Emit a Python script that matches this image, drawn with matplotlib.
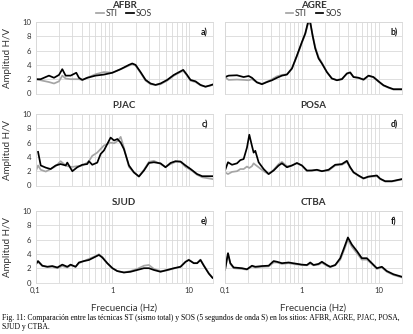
import numpy as np
import matplotlib
matplotlib.use("Agg")
import matplotlib.pyplot as plt
from matplotlib.ticker import FixedLocator, LogLocator, NullFormatter

plt.rcParams['font.family'] = ['Lato', 'DejaVu Sans']

# H/V spectral ratios per site: ST (sismo total) vs SOS (5 s of S wave)
sites = ["AFBR", "AGRE", "PJAC", "POSA", "SJUD", "CTBA"]
letters = ["a)", "b)", "c)", "d)", "e)", "f)"]

freq_afbr = [0.1, 0.1167, 0.1497, 0.174, 0.202, 0.223, 0.2465, 0.286, 0.339, 0.367,
             0.406, 0.471, 0.604, 0.776, 0.995, 1.277, 1.638, 1.81, 2.0, 2.32,
             2.7, 3.13, 3.64, 4.22, 5.15, 6.29, 7.68, 8.32, 9.19, 10.36,
             12.03, 13.96, 16.2, 18.8, 20]
sos_afbr = [2.0, 2.0, 2.5, 2.2, 2.6, 3.4, 2.5, 2.5, 2.9, 2.2,
            1.9, 2.2, 2.5, 2.65, 2.9, 3.4, 4.0, 4.2, 4.0, 3.0,
            1.9, 1.4, 1.2, 1.4, 1.9, 2.6, 3.1, 3.3, 2.7, 1.9,
            1.7, 1.2, 0.95, 1.15, 1.25]
sti_afbr = [2.0, 1.85, 1.6, 1.4, 1.7, 2.5, 2.1, 2.0, 2.0, 2.0,
            1.9, 2.2, 2.7, 3.0, 2.9, 3.4, 3.9, 4.1, 3.9, 2.9,
            1.8, 1.3, 1.2, 1.3, 1.8, 2.5, 3.0, 3.2, 2.6, 1.8,
            1.6, 1.15, 0.95, 1.1, 1.2]

freq_agre = [0.1, 0.1116, 0.1432, 0.1747, 0.203, 0.224, 0.26, 0.302, 0.351, 0.408,
             0.474, 0.55, 0.639, 0.742, 0.861, 1.0, 1.105, 1.196, 1.283, 1.376,
             1.49, 1.646, 1.818, 2.11, 2.45, 2.85, 3.31, 3.84, 4.24, 4.69,
             5.44, 6.32, 7.34, 8.52, 9.9, 11.5, 13.35, 15.5, 20]
sos_agre = [2.3, 2.5, 2.55, 2.3, 2.45, 2.2, 1.55, 1.3, 1.6, 1.85,
            2.2, 2.5, 2.65, 3.5, 5.3, 7.2, 8.4, 9.9, 10.0, 8.1,
            6.3, 4.9, 4.2, 3.0, 2.1, 1.85, 2.0, 2.8, 2.95, 2.3,
            2.2, 1.95, 2.5, 2.3, 1.7, 1.15, 0.85, 0.6, 0.6]
sti_agre = [2.3, 1.9, 1.95, 1.9, 1.85, 2.0, 1.6, 1.35, 1.65, 2.0,
            2.4, 2.6, 2.7, 3.5, 5.2, 7.1, 8.3, 9.7, 9.8, 8.2,
            6.5, 5.1, 4.3, 3.0, 2.1, 1.9, 2.05, 2.75, 2.9, 2.3,
            2.2, 1.9, 2.45, 2.25, 1.65, 1.1, 0.8, 0.55, 0.55]

freq_pjac = [0.1, 0.108, 0.117, 0.136, 0.157, 0.183, 0.212, 0.247, 0.259, 0.301,
             0.349, 0.406, 0.471, 0.495, 0.547, 0.635, 0.702, 0.776, 0.857, 0.947,
             1.05, 1.16, 1.28, 1.41, 1.64, 1.9, 2.21, 2.57, 2.98, 3.46,
             4.22, 4.9, 5.69, 6.61, 7.68, 8.92, 10.4, 12.6, 14.7, 20]
sos_pjac = [np.nan, 4.7, 2.8, 2.5, 2.3, 2.8, 3.0, 2.8, 3.2, 2.0,
            2.55, 2.9, 3.0, 3.4, 2.9, 3.2, 4.4, 4.9, 5.8, 6.7,
            6.3, 6.5, 6.0, 5.1, 2.8, 1.85, 1.25, 2.1, 3.15, 3.25,
            3.1, 2.55, 3.15, 3.4, 3.35, 2.8, 2.3, 1.6, 1.3, 1.3]
sti_pjac = [1.9, 2.8, 2.2, 1.95, 2.3, 2.7, 3.4, 2.8, 2.7, 2.6,
            2.7, 2.8, 3.2, 3.4, 4.15, 4.6, 5.1, 5.6, 5.8, 6.0,
            5.9, 6.2, 6.8, 5.3, 2.6, 1.8, 1.3, 2.2, 3.3, 3.45,
            3.0, 2.6, 3.0, 3.3, 3.3, 2.6, 2.2, 1.5, 1.15, 0.9]

freq_posa = [0.1, 0.1094, 0.1233, 0.1432, 0.1582, 0.1747, 0.193, 0.207, 0.224, 0.2357,
             0.2477, 0.2736, 0.318, 0.369, 0.429, 0.498, 0.55, 0.639, 0.742, 0.861,
             1.0, 1.161, 1.348, 1.566, 1.818, 2.22, 2.71, 3.31, 3.84, 4.24,
             4.69, 5.44, 6.32, 7.34, 9.42, 10.4, 12.09, 14.75, 20]
sos_posa = [2.1, 3.25, 2.9, 3.1, 3.55, 3.7, 5.3, 7.1, 5.55, 4.6,
            4.85, 3.25, 2.3, 1.6, 2.1, 2.8, 3.1, 2.55, 2.8, 3.15,
            2.8, 2.1, 2.1, 2.2, 2.0, 2.2, 2.9, 3.0, 3.45, 2.55,
            1.85, 1.4, 1.0, 1.25, 1.4, 0.95, 0.6, 0.6, 0.9]
sti_posa = [1.85, 1.6, 1.9, 2.0, 2.3, 2.3, 2.65, 2.45, 2.7, 3.1,
            2.9, 2.55, 2.0, 1.6, 2.2, 3.0, 3.3, 2.7, 2.8, 3.1,
            2.8, 2.0, 2.1, 2.15, 2.0, 2.1, 2.8, 2.9, 3.3, 2.5,
            1.8, 1.35, 0.95, 1.2, 1.3, 0.9, 0.55, 0.55, 0.85]

freq_sjud = [0.1, 0.1078, 0.1227, 0.1425, 0.1654, 0.1921, 0.223, 0.259, 0.286, 0.332,
             0.367, 0.4265, 0.495, 0.575, 0.668, 0.738, 0.857, 1.0, 1.156, 1.411,
             1.72, 2.1, 2.57, 2.98, 3.46, 4.22, 5.15, 6.29, 7.68, 8.92,
             9.85, 11.44, 12.64, 13.96, 15.43, 17.9, 20]
sos_sjud = [2.5, 3.0, 2.35, 2.2, 2.3, 2.1, 2.5, 2.2, 2.5, 2.2,
            2.8, 3.0, 3.15, 3.5, 3.85, 3.5, 2.7, 2.0, 1.6, 1.4,
            1.5, 1.75, 2.0, 2.0, 1.75, 1.5, 1.75, 2.0, 2.2, 2.9,
            3.15, 2.7, 2.7, 3.15, 2.35, 1.25, 0.65]
sti_sjud = [2.5, 2.9, 2.3, 2.2, 2.2, 2.0, 2.3, 2.1, 2.4, 2.2,
            2.7, 3.0, 3.3, 3.6, 3.95, 3.6, 2.7, 2.0, 1.6, 1.4,
            1.6, 1.9, 2.35, 2.45, 1.9, 1.6, 1.7, 1.95, 2.2, 2.85,
            3.2, 2.7, 2.75, 3.2, 2.4, 1.3, 0.7]

freq_ctba = [0.1, 0.1094, 0.1173, 0.1296, 0.1663, 0.193, 0.224, 0.2477, 0.302, 0.369,
             0.429, 0.474, 0.55, 0.671, 0.819, 1.0, 1.161, 1.283, 1.418, 1.646,
             1.818, 2.11, 2.33, 2.71, 3.15, 3.58, 3.96, 4.46, 5.18, 6.01,
             6.99, 8.11, 9.42, 10.94, 12.7, 15.5, 20]
sos_ctba = [1.75, 4.1, 2.7, 2.1, 2.0, 1.85, 2.35, 2.2, 2.3, 2.35,
            3.0, 2.9, 2.7, 2.8, 2.65, 2.5, 2.45, 2.8, 2.45, 2.6,
            2.9, 2.45, 2.2, 2.45, 3.4, 5.0, 6.3, 5.3, 4.4, 3.4,
            3.4, 2.7, 2.0, 2.2, 1.6, 1.15, 0.8]
sti_ctba = [1.75, 4.0, 2.6, 2.0, 1.9, 1.8, 2.25, 2.1, 2.2, 2.25,
            2.8, 2.8, 2.6, 2.7, 2.55, 2.45, 2.4, 2.65, 2.4, 2.5,
            2.75, 2.35, 2.15, 2.4, 3.2, 4.7, 6.0, 5.0, 4.1, 3.2,
            3.2, 2.6, 1.9, 2.1, 1.5, 1.05, 0.7]

freqs = [freq_afbr, freq_agre, freq_pjac, freq_posa, freq_sjud, freq_ctba]
sos = [sos_afbr, sos_agre, sos_pjac, sos_posa, sos_sjud, sos_ctba]
sti = [sti_afbr, sti_agre, sti_pjac, sti_posa, sti_sjud, sti_ctba]

W, H = 414, 334
fig = plt.figure(figsize=(W / 100, H / 100), dpi=100)

col_left = [35.5, 225]
row_top = [22, 114, 211]
ax_w, ax_h = 177, 71.5
grid_c = '#d9d9d9'
txt_c = '#333333'

for i, site in enumerate(sites):
    r, c = divmod(i, 2)
    x0 = col_left[c]
    y0 = row_top[r]
    ax = fig.add_axes([x0 / W, 1 - (y0 + ax_h) / H, ax_w / W, ax_h / H])
    ax.set_xscale('log')
    ax.plot(freqs[i], sti[i], color='#a5a5a5', lw=1.25, label='STI')
    ax.plot(freqs[i], sos[i], color='black', lw=1.25, label='SOS')
    ax.set_xlim(0.1, 20)
    ax.set_ylim(0, 10)
    ax.set_yticks(range(0, 11, 2))
    ax.xaxis.set_major_locator(FixedLocator([0.1, 1, 10]))
    ax.xaxis.set_minor_locator(LogLocator(base=10, subs=np.arange(2, 10)))
    ax.xaxis.set_minor_formatter(NullFormatter())
    ax.grid(True, which='both', color=grid_c, lw=0.6)
    ax.set_axisbelow(True)
    for s in ax.spines.values():
        s.set_color(grid_c)
        s.set_linewidth(0.6)
    ax.tick_params(which='both', length=0, labelsize=5.6, colors=txt_c, pad=3)

    if c == 0:
        ax.set_ylabel('Amplitud H/V', fontsize=7, color=txt_c)
        ax.yaxis.set_label_coords(-23.5 / ax_w, 0.5)
    else:
        ax.set_yticklabels([])
    if r == 2:
        ax.set_xticklabels(['0,1', '1', '10'])
        ax.set_xlabel('Frecuencia (Hz)', fontsize=7, color=txt_c)
        ax.xaxis.set_label_coords(0.5, -21 / ax_h)
    else:
        ax.set_xticklabels([])

    title_off = 12.2 if r == 0 else 6.3
    ax.annotate(site, xy=(0.5, 1), xycoords='axes fraction',
                xytext=(0, title_off), textcoords='offset points',
                ha='center', va='center', fontsize=7, fontweight='bold',
                color=txt_c)
    ax.text(0.955, 0.84, letters[i], transform=ax.transAxes, ha='center',
            va='center', fontsize=6.3, fontweight='bold', color='#111111')
    if r == 0:
        ax.legend(loc='center', bbox_to_anchor=(0.5, 1 + 8 / ax_h), ncol=2,
                  frameon=False, fontsize=6.2, handlelength=0.9,
                  handletextpad=0.2, columnspacing=1.0, borderpad=0,
                  labelcolor=txt_c)

cap_kw = dict(fontsize=5.5, family='Liberation Serif', ha='left', va='center',
              color='black')
fig.text(2 / W, 1 - 318 / H,
         'Fig. 11: Comparación entre las técnicas ST (sismo total) y SOS '
         '(5 segundos de onda S) en los sitios: AFBR, AGRE, PJAC, POSA,', **cap_kw)
fig.text(2 / W, 1 - 327 / H, 'SJUD y CTBA.', **cap_kw)

fig.savefig('out.png', dpi=100)
